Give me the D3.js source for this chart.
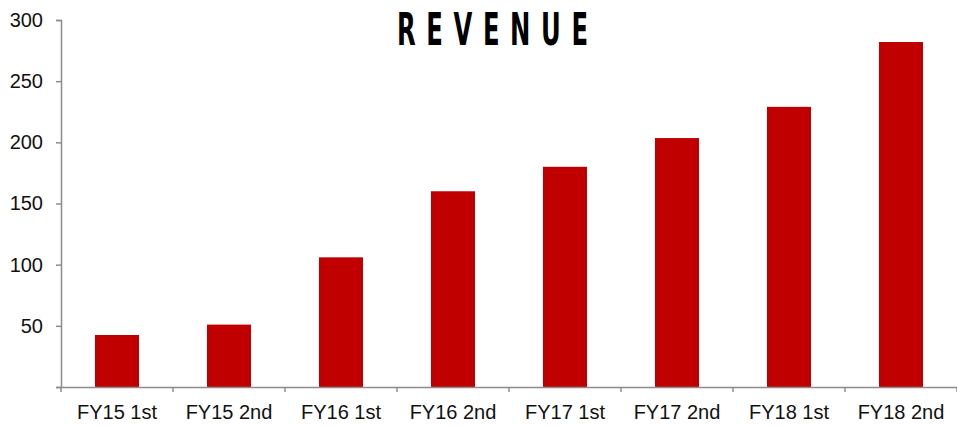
<!DOCTYPE html>
<html>
<head>
<meta charset="utf-8">
<script src="https://cdn.jsdelivr.net/npm/d3@7"></script>
<style>
  body { margin: 0; background: #fff; }
  svg { display: block; }
</style>
</head>
<body>
<svg></svg>
<script>
// chart data
const categories = ["FY15 1st", "FY15 2nd", "FY16 1st", "FY16 2nd", "FY17 1st", "FY17 2nd", "FY18 1st", "FY18 2nd"]
const revenue = [42.5, 51, 106, 160, 180, 203.5, 229, 282]
const yTicks = [0, 50, 100, 150, 200, 250, 300]
const title = "REVENUE"

const w = 957
const h = 426
const plotLeft = 61
const plotRight = 957
const plotTop = 20
const plotBottom = 387

let svg = d3.select("svg")
  .attr("width", w)
  .attr("height", h)

let xScale = d3.scaleBand()
  .domain(categories)
  .range([plotLeft, plotRight])
  .paddingInner(0.607)
  .paddingOuter(0.3035)

let yScale = d3.scaleLinear()
  .domain([0, 300])
  .range([plotBottom, plotTop])

// bars
svg.selectAll("rect.bar")
  .data(revenue)
  .enter()
  .append("rect")
  .attr("class", "bar")
  .attr("x", (d, i) => xScale(categories[i]))
  .attr("y", (d) => yScale(d))
  .attr("width", xScale.bandwidth())
  .attr("height", (d) => plotBottom - yScale(d))
  .attr("fill", "#c00000")

// y axis
let yAxis = d3.axisLeft(yScale)
  .tickValues(yTicks)
  .tickSize(5)
  .tickPadding(13)
  .tickFormat((d) => d === 0 ? "" : d)

let gy = svg.append("g")
  .attr("transform", "translate(" + plotLeft + ",0)")
  .call(yAxis)

gy.select(".domain").attr("stroke", "#8c8c8c").attr("stroke-width", 1.5)
gy.selectAll(".tick line").attr("stroke", "#8c8c8c").attr("stroke-width", 1.5)
gy.selectAll(".tick text")
  .attr("fill", "#111")
  .style("font-family", "'Liberation Sans', Arial, sans-serif")
  .style("font-size", "20px")

// x axis (labels only, boundary ticks drawn below)
let xAxis = d3.axisBottom(xScale)
  .tickSize(0)
  .tickPadding(18)

let gx = svg.append("g")
  .attr("transform", "translate(0," + plotBottom + ")")
  .call(xAxis)

gx.select(".domain").attr("stroke", "#8c8c8c").attr("stroke-width", 1.5)
gx.selectAll(".tick text")
  .attr("fill", "#111")
  .style("font-family", "'Liberation Sans', Arial, sans-serif")
  .style("font-size", "20px")

let gap = (xScale.step() - xScale.bandwidth()) / 2
let bounds = categories.map((c) => xScale(c) - gap).concat([plotRight])

gx.selectAll("line.bound")
  .data(bounds)
  .enter()
  .append("line")
  .attr("class", "bound")
  .attr("x1", (d) => d)
  .attr("x2", (d) => d)
  .attr("y1", 0)
  .attr("y2", 5)
  .attr("stroke", "#8c8c8c")
  .attr("stroke-width", 1.5)

// title
let titleW = 191
let sx = 0.6
svg.append("text")
  .attr("transform", "translate(397,45) scale(" + sx + ",1)")
  .attr("textLength", titleW / sx)
  .attr("lengthAdjust", "spacing")
  .style("font-family", "'Liberation Sans Narrow', 'DejaVu Sans Condensed', sans-serif")
  .style("font-weight", "bold")
  .style("font-size", "45px")
  .attr("fill", "#000")
  .text(title)
</script>
</body>
</html>
